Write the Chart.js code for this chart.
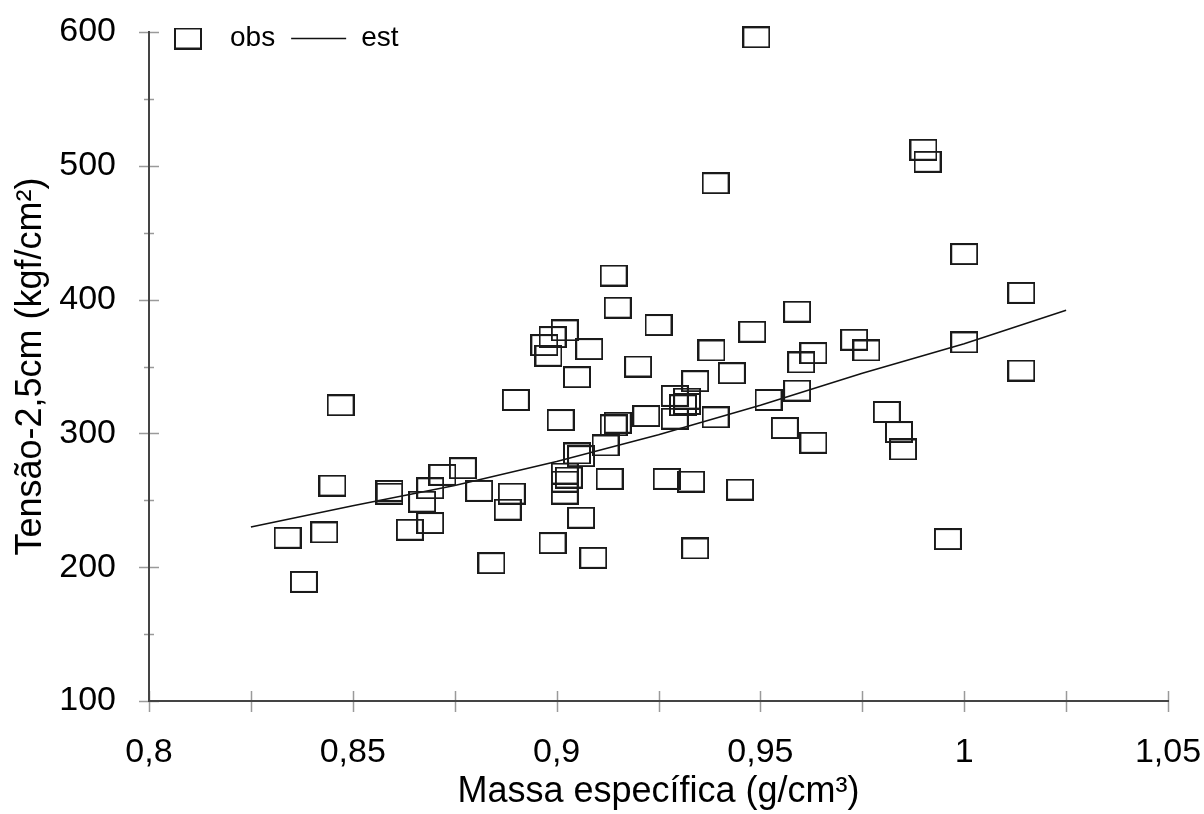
<!DOCTYPE html>
<html>
<head>
<meta charset="utf-8">
<title>Tensão x Massa específica</title>
<script src="https://cdn.jsdelivr.net/npm/chart.js@4.4.1/dist/chart.umd.min.js"></script>
<style>
  body { margin: 0; background: #fff; }
  canvas { display: block; }
</style>
</head>
<body>
<canvas id="chart" width="1204" height="814"></canvas>
<script>
// valores
const obsX = [0.834, 0.838, 0.843, 0.845, 0.847, 0.859, 0.859, 0.864, 0.867, 0.869,
  0.869, 0.872, 0.877, 0.881, 0.884, 0.888, 0.889, 0.890, 0.899, 0.897,
  0.898, 0.899, 0.902, 0.901, 0.902, 0.903, 0.902, 0.902, 0.905, 0.906,
  0.905, 0.906, 0.908, 0.909, 0.912, 0.914, 0.915, 0.913, 0.914, 0.915,
  0.920, 0.922, 0.925, 0.927, 0.929, 0.932, 0.931, 0.932, 0.929, 0.933,
  0.934, 0.934, 0.939, 0.938, 0.939, 0.943, 0.945, 0.948, 0.949, 0.952,
  0.956, 0.959, 0.960, 0.959, 0.963, 0.963, 0.973, 0.976, 0.981, 0.984,
  0.985, 0.990, 0.991, 0.996, 1.000, 1.000, 1.014, 1.014];
const obsY = [222, 189, 226, 261, 321, 257, 255, 228, 249, 259,
  233, 269, 274, 257, 203, 243, 255, 325, 218, 366,
  358, 372, 377, 310, 270, 267, 264, 255, 342, 237,
  285, 283, 363, 207, 291, 306, 308, 266, 418, 394,
  350, 313, 381, 266, 328, 326, 321, 322, 311, 264,
  214, 339, 312, 362, 487, 345, 258, 376, 596, 325,
  304, 391, 353, 332, 360, 293, 370, 362, 316, 301,
  288, 512, 503, 221, 434, 368, 405, 347];

const estX = [0.825, 0.85, 0.875, 0.9, 0.925, 0.95, 0.975, 1.0, 1.025];
const estY = [230, 246, 261, 279, 299, 321, 345, 367, 392];

const xTitle = "Massa específica (g/cm³)";
const yTitle = "Tensão-2,5cm (kgf/cm²)";
const FONT = '"Liberation Sans", Arial, sans-serif';

// marcador retangular (mais largo que alto)
const boxImg = document.createElement("canvas");
boxImg.width = 28;
boxImg.height = 22;
(function () {
    const c = boxImg.getContext("2d");
    c.strokeStyle = "#1a1a1a";
    c.lineWidth = 2;
    c.strokeRect(1, 1, 26, 20);
})();

// traços dos eixos cruzando a linha do eixo
const crossTicks = {
    id: "crossTicks",
    beforeDraw(chart) {
        const { ctx, scales: { x, y } } = chart;
        ctx.save();
        ctx.strokeStyle = "#9a9a9a";
        ctx.lineWidth = 1.5;
        x.ticks.forEach(t => {
            const px = Math.round(x.getPixelForValue(t.value)) + 0.5;
            ctx.beginPath();
            ctx.moveTo(px, y.bottom - 10);
            ctx.lineTo(px, y.bottom + 11);
            ctx.stroke();
        });
        y.ticks.forEach(t => {
            const py = Math.round(y.getPixelForValue(t.value)) + 0.5;
            const len = t.value % 100 === 0 ? 10 : 5;
            ctx.beginPath();
            ctx.moveTo(x.left - len, py);
            ctx.lineTo(x.left + len, py);
            ctx.stroke();
        });
        ctx.restore();
    }
};

// legenda dentro da área do gráfico, canto superior esquerdo
const plotLegend = {
    id: "plotLegend",
    afterDraw(chart) {
        const ctx = chart.ctx;
        const a = chart.chartArea;
        const ds = chart.data.datasets;
        const y = a.top + 6.5;
        ctx.save();
        ctx.font = "28px " + FONT;
        ctx.fillStyle = "#000";
        ctx.textBaseline = "middle";
        let cx = a.left + 25;
        ctx.drawImage(boxImg, cx, y - boxImg.height / 2);
        cx += 56;
        ctx.fillText(ds[0].label, cx, y);
        cx += ctx.measureText(ds[0].label).width + 16;
        ctx.strokeStyle = ds[1].borderColor;
        ctx.lineWidth = ds[1].borderWidth;
        ctx.beginPath();
        ctx.moveTo(cx, y);
        ctx.lineTo(cx + 55, y);
        ctx.stroke();
        cx += 70;
        ctx.fillText(ds[1].label, cx, y);
        ctx.restore();
    }
};

const ctx = document.getElementById("chart").getContext("2d");

new Chart(ctx, {
    type: "scatter",
    data: {
        datasets: [{
            label: "obs",
            data: obsX.map((v, i) => ({ x: v, y: obsY[i] })),
            pointStyle: boxImg,
            pointRadius: 3,
            pointHoverRadius: 3,
            clip: false
        }, {
            label: "est",
            data: estX.map((v, i) => ({ x: v, y: estY[i] })),
            showLine: true,
            borderColor: "#111",
            borderWidth: 1.5,
            pointRadius: 0,
            tension: 0
        }]
    },
    options: {
        responsive: false,
        animation: false,
        layout: { padding: { left: 0, top: 32, right: 36, bottom: 0 } },
        plugins: {
            legend: { display: false },
            tooltip: { enabled: false }
        },
        scales: {
            x: {
                type: "linear",
                min: 0.8,
                max: 1.05,
                grid: { display: false },
                border: { display: true, color: "#444", width: 2 },
                ticks: {
                    stepSize: 0.025,
                    autoSkip: false,
                    maxRotation: 0,
                    padding: 23,
                    color: "#000",
                    font: { family: FONT, size: 34 },
                    callback: v => {
                        const k = Math.round(v * 1000);
                        return k % 50 === 0 ? String(k / 1000).replace(".", ",") : "";
                    }
                },
                title: {
                    display: true,
                    text: xTitle,
                    color: "#000",
                    font: { family: FONT, size: 36 },
                    padding: { top: 0, bottom: 0 }
                },
                afterFit: s => {
                    s.height = 113;
                    s.paddingLeft = 0;
                    s.paddingRight = 0;
                }
            },
            y: {
                min: 100,
                max: 600,
                grid: { display: false },
                border: { display: true, color: "#444", width: 2 },
                ticks: {
                    stepSize: 50,
                    autoSkip: false,
                    padding: 25,
                    color: "#000",
                    font: { family: FONT, size: 34 },
                    callback: v => (v % 100 === 0 ? v : "")
                },
                title: {
                    display: true,
                    text: yTitle,
                    color: "#000",
                    font: { family: FONT, size: 36 },
                    padding: { top: 9, bottom: 0 }
                },
                afterFit: s => {
                    s.width = 149;
                    s.paddingTop = 0;
                    s.paddingBottom = 0;
                }
            }
        }
    },
    plugins: [crossTicks, plotLegend]
});
</script>
</body>
</html>
